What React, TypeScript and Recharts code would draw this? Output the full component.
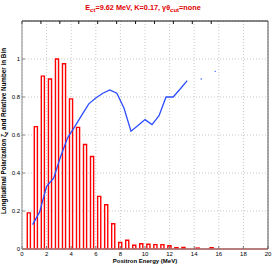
import { ComposedChart, Bar, Line, XAxis, YAxis, CartesianGrid, ReferenceLine } from "recharts";

// bin centres (MeV) and relative number in bin
const binEnergy = [
  0.57, 1.14, 1.71, 2.29, 2.86, 3.43, 4.0, 4.57, 5.14, 5.71, 6.29, 6.86, 7.43, 8.0,
  8.57, 9.14, 9.71, 10.29, 10.86, 11.43, 12.0, 12.57, 13.14, 13.71, 14.29, 14.86, 15.43,
];
const binCount = [
  0.19, 0.644, 0.91, 0.895, 1.0, 0.975, 0.79, 0.64, 0.55, 0.487, 0.277, 0.233, 0.133, 0.034,
  0.046, 0.02, 0.028, 0.025, 0.023, 0.023, 0.017, 0.007, 0.008, 0, 0.005, 0, 0.007,
];

// longitudinal polarization (null = empty bin)
const polEnergy = [
  0.86, 1.43, 2.0, 2.57, 3.14, 3.71, 4.29, 4.86, 5.43, 6.0, 6.57, 7.14, 7.71, 8.29,
  8.86, 9.43, 10.0, 10.57, 11.14, 11.71, 12.29, 12.86, 13.43, 14.0, 14.57, 15.14, 15.71,
];
const polValue: (number | null)[] = [
  0.128, 0.194, 0.33, 0.373, 0.487, 0.585, 0.644, 0.705, 0.764, 0.795, 0.82, 0.837, 0.82, 0.742,
  0.62, 0.65, 0.681, 0.655, 0.702, 0.8, 0.8, 0.842, 0.886, null, 0.895, null, 0.935,
];

const xTicks = [0, 2, 4, 6, 8, 10, 12, 14, 16, 18, 20];
const yTicks = [0, 0.2, 0.4, 0.6, 0.8, 1];

const bars = binEnergy.map((e, i) => ({ e, n: binCount[i] }));
const pol = polEnergy.map((e, i) => ({ e, p: polValue[i] }));
// points with no neighbour on either side show up as lone dots
const lonePts = pol.filter(
  (d, i) => d.p != null && (i === 0 || pol[i - 1].p == null) && (i === pol.length - 1 || pol[i + 1].p == null)
);

const RED = "#ff0000";
const BLUE = "#2b4cff";
const tickFont = { fontSize: 6, fill: "#000" };

export default function App() {
  return (
    <div
      style={{
        position: "absolute",
        left: 0,
        top: 0,
        width: 274,
        height: 267,
        background: "#fff",
        fontFamily: '"Liberation Sans", Arial, sans-serif',
      }}
    >
      <div
        style={{
          position: "absolute",
          left: 0,
          width: 286,
          top: 3,
          textAlign: "center",
          color: "#e00000",
          fontWeight: "bold",
          fontSize: 7.3,
          lineHeight: "9px",
          whiteSpace: "nowrap",
        }}
      >
        E<sub style={{ fontSize: 6 }}>ct</sub>=9.62 MeV, K=0.17, γθ<sub style={{ fontSize: 6 }}>cut</sub>=none
      </div>
      <ComposedChart width={274} height={267} data={bars} margin={{ top: 20, right: 5, bottom: 0, left: 0 }}>
        <CartesianGrid stroke="#c8c8c8" strokeDasharray="1 2" xAxisId="b" yAxisId="l" />
        <XAxis
          xAxisId="b"
          dataKey="e"
          type="number"
          domain={[0, 20]}
          ticks={xTicks}
          height={18}
          tick={tickFont}
          tickSize={-3}
          tickMargin={6}
          stroke="#777"
          allowDataOverflow
        />
        <XAxis
          xAxisId="t"
          orientation="top"
          type="number"
          domain={[0, 20]}
          ticks={xTicks}
          height={1}
          tickFormatter={() => ""}
          tickSize={-3}
          stroke="#111"
        />
        <YAxis
          yAxisId="l"
          type="number"
          domain={[0, 1.2]}
          ticks={yTicks}
          width={22}
          tick={tickFont}
          tickSize={-3}
          tickMargin={5}
          stroke="#888"
          allowDataOverflow
        />
        <YAxis
          yAxisId="r"
          orientation="right"
          type="number"
          domain={[0, 1.2]}
          ticks={yTicks}
          width={1}
          tickFormatter={() => ""}
          tickSize={-3}
          stroke="#555"
        />
        <Bar
          xAxisId="b"
          yAxisId="l"
          dataKey="n"
          barSize={5}
          fill="#fff"
          stroke={RED}
          strokeWidth={1.4}
          isAnimationActive={false}
        />
        <ReferenceLine xAxisId="b" yAxisId="l" y={0} stroke="#ff6060" strokeWidth={1.5} />
        <Line
          xAxisId="b"
          yAxisId="l"
          data={pol}
          dataKey="p"
          type="linear"
          stroke={BLUE}
          strokeWidth={1.3}
          dot={false}
          connectNulls={false}
          isAnimationActive={false}
        />
        <Line
          xAxisId="b"
          yAxisId="l"
          data={lonePts}
          dataKey="p"
          stroke="none"
          dot={{ r: 0.7, fill: BLUE, stroke: "none" }}
          isAnimationActive={false}
        />
      </ComposedChart>
      <div
        style={{
          position: "absolute",
          left: 95,
          width: 100,
          top: 257,
          textAlign: "center",
          fontWeight: "bold",
          fontSize: 6,
          lineHeight: "8px",
          whiteSpace: "nowrap",
        }}
      >
        Positron Energy (MeV)
      </div>
      <div
        style={{
          position: "absolute",
          left: 4.5,
          top: 131,
          transform: "translate(-50%, -50%) rotate(-90deg)",
          fontWeight: "bold",
          fontSize: 6.3,
          lineHeight: "8px",
          whiteSpace: "nowrap",
        }}
      >
        Longitudinal Polarization ζ<sub style={{ fontSize: 5 }}>z</sub> and Relative Number in Bin
      </div>
    </div>
  );
}
